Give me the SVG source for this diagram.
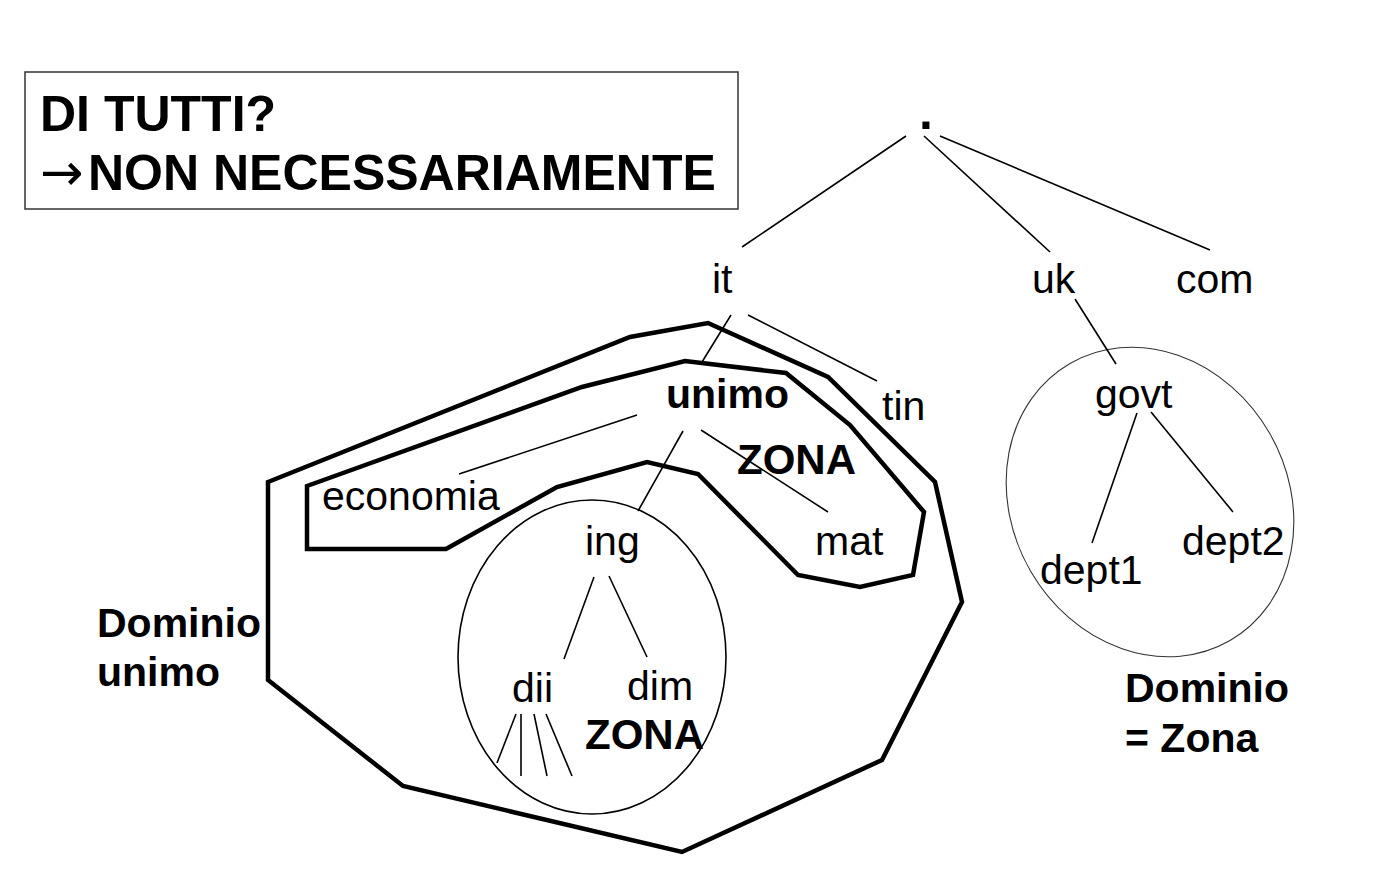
<svg xmlns="http://www.w3.org/2000/svg" width="1396" height="885" viewBox="0 0 1396 885">
<style>
text{font-family:"Liberation Sans",Arial,sans-serif;fill:#000}
.n{font-size:41px}
.b{font-size:41px;font-weight:bold}
.z{font-size:42px;font-weight:bold}
.t{font-size:50px;font-weight:bold}
.arr{font-family:"DejaVu Sans",sans-serif;font-size:52px}
.ln{stroke:#000;stroke-width:1.6;fill:none}
.poly{stroke:#000;stroke-width:4.5;fill:none;stroke-linejoin:miter}
</style>
<rect x="0" y="0" width="1396" height="885" fill="#fff"/>
<g id="title">
<rect x="25" y="72" width="713" height="137" fill="#fff" stroke="#333" stroke-width="1.5"/>
<text class="t" x="40" y="131">DI TUTTI?</text>
<text class="arr" x="40" y="190">→</text>
<text class="t" x="88" y="190">NON NECESSARIAMENTE</text>
</g>
<g id="zones">
<polygon id="dominio-unimo" class="poly" points="268,482 630,337 708,323 828,377 935,482 962,602 882,760 682,852 403,786 268,680"/>
<polygon id="zona-unimo" class="poly" points="307,486 582,387 685,361 786,373 850,425 924,512 913,575 860,587 798,575 698,474 647,462 557,487 446,549 307,549"/>
<ellipse id="zona-ing" cx="592" cy="657" rx="134" ry="157" fill="none" stroke="#000" stroke-width="1.6"/>
<ellipse id="zona-govt" cx="1150" cy="502" rx="160" ry="138" transform="rotate(60 1150 502)" fill="none" stroke="#333" stroke-width="1.1"/>
</g>
<g id="connectors">
<line class="ln" x1="906" y1="136" x2="742" y2="247"/>
<line class="ln" x1="924" y1="136" x2="1050" y2="252"/>
<line class="ln" x1="940" y1="136" x2="1210" y2="250"/>
<line class="ln" x1="731" y1="315" x2="702" y2="362"/>
<line class="ln" x1="748" y1="315" x2="877" y2="381"/>
<line class="ln" x1="637" y1="415" x2="459" y2="474"/>
<line class="ln" x1="683" y1="431" x2="638" y2="511"/>
<line class="ln" x1="701" y1="430" x2="828" y2="512"/>
<line class="ln" x1="594" y1="577" x2="564" y2="659"/>
<line class="ln" x1="609" y1="576" x2="647" y2="657"/>
<line class="ln" x1="516" y1="714" x2="497" y2="763"/>
<line class="ln" x1="521" y1="714" x2="521" y2="776"/>
<line class="ln" x1="534" y1="714" x2="547" y2="776"/>
<line class="ln" x1="546" y1="714" x2="572" y2="776"/>
<line class="ln" x1="1075" y1="299" x2="1116" y2="364"/>
<line class="ln" x1="1137" y1="413" x2="1092" y2="543"/>
<line class="ln" x1="1151" y1="412" x2="1233" y2="512"/>
</g>
<g id="node-root"><text class="t" x="919" y="129">.</text></g>
<g id="node-it"><text class="n" x="712" y="293">it</text></g>
<g id="node-uk"><text class="n" x="1032" y="293">uk</text></g>
<g id="node-com"><text class="n" x="1176" y="293">com</text></g>
<g id="node-unimo"><text class="b" x="666" y="408">unimo</text></g>
<g id="node-tin"><text class="n" x="882" y="420">tin</text></g>
<g id="label-zona1"><text class="z" x="737" y="474">ZONA</text></g>
<g id="node-economia"><text class="n" x="322" y="510">economia</text></g>
<g id="node-ing"><text class="n" x="585" y="555">ing</text></g>
<g id="node-mat"><text class="n" x="815" y="555">mat</text></g>
<g id="node-dii"><text class="n" x="512" y="702">dii</text></g>
<g id="node-dim"><text class="n" x="627" y="700">dim</text></g>
<g id="label-zona2"><text class="z" x="585" y="749">ZONA</text></g>
<g id="label-dominio-unimo"><text class="b" x="97" y="637">Dominio</text><text class="b" x="97" y="686">unimo</text></g>
<g id="node-govt"><text class="n" x="1095" y="408">govt</text></g>
<g id="node-dept1"><text class="n" x="1040" y="584">dept1</text></g>
<g id="node-dept2"><text class="n" x="1182" y="555">dept2</text></g>
<g id="label-dominio-zona"><text class="b" x="1125" y="702">Dominio</text><text class="b" x="1125" y="752">= Zona</text></g>
</svg>
